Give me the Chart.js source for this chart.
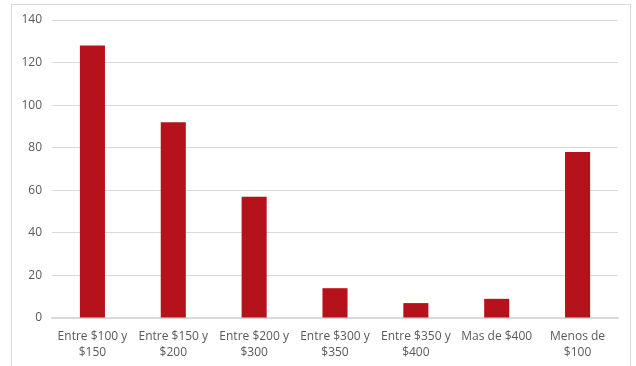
<!DOCTYPE html>
<html>
<head>
<meta charset="utf-8">
<script src="https://cdn.jsdelivr.net/npm/chart.js@4/dist/chart.umd.min.js"></script>
<style>
  html, body { margin: 0; padding: 0; background: #fff; }
  #wrap { position: relative; width: 636px; height: 366px; }
  #frame { position: absolute; left: 11px; top: 4px; width: 620px; height: 380px; border: 1px solid #d9d9d9; box-sizing: border-box; }
  #chart-bar { position: absolute; left: 0; top: 0; }
</style>
</head>
<body>
<div id="wrap">
  <div id="frame"></div>
  <canvas id="chart-bar" width="636" height="366"></canvas>
</div>
<script>
// price ranges and counts
const categories = [
  ["Entre $100 y", "$150"],
  ["Entre $150 y", "$200"],
  ["Entre $200 y", "$300"],
  ["Entre $300 y", "$350"],
  ["Entre $350 y", "$400"],
  ["Mas de $400"],
  ["Menos de", "$100"],
];
const counts = [128, 92, 57, 14, 7, 9, 78];
const yTicks = [0, 20, 40, 60, 80, 100, 120, 140];

const labelFont = { size: 12, family: "Open Sans" };

var ctx = document.getElementById("chart-bar").getContext("2d");

new Chart(ctx, {
  type: "bar",
  data: {
    labels: categories,
    datasets: [
      {
        label: "Total",
        data: counts,
        backgroundColor: "#b5121b",
        borderWidth: 0,
        categoryPercentage: 1,
        barPercentage: 0.31,
      },
    ],
  },
  options: {
    responsive: false,
    animation: false,
    layout: {
      padding: { top: 20, right: 18, left: 0, bottom: 0 },
    },
    plugins: {
      legend: { display: false },
      tooltip: { enabled: false },
    },
    scales: {
      y: {
        min: 0,
        max: 140,
        afterBuildTicks: (scale) => {
          scale.ticks = yTicks.map((v) => ({ value: v }));
        },
        afterFit: (scale) => {
          scale.width = 52;
        },
        grid: {
          color: "#d9d9d9",
          drawTicks: false,
        },
        border: { display: false },
        ticks: {
          padding: 10,
          color: "#595959",
          font: labelFont,
        },
      },
      x: {
        afterFit: (scale) => {
          scale.height = 48;
        },
        grid: {
          display: false,
          drawTicks: false,
        },
        border: { display: true, color: "#d9d9d9", width: 1.5 },
        ticks: {
          padding: 10,
          color: "#595959",
          maxRotation: 0,
          autoSkip: false,
          font: { size: 12, family: "Open Sans", lineHeight: 1.35 },
        },
      },
    },
  },
});
</script>
</body>
</html>
